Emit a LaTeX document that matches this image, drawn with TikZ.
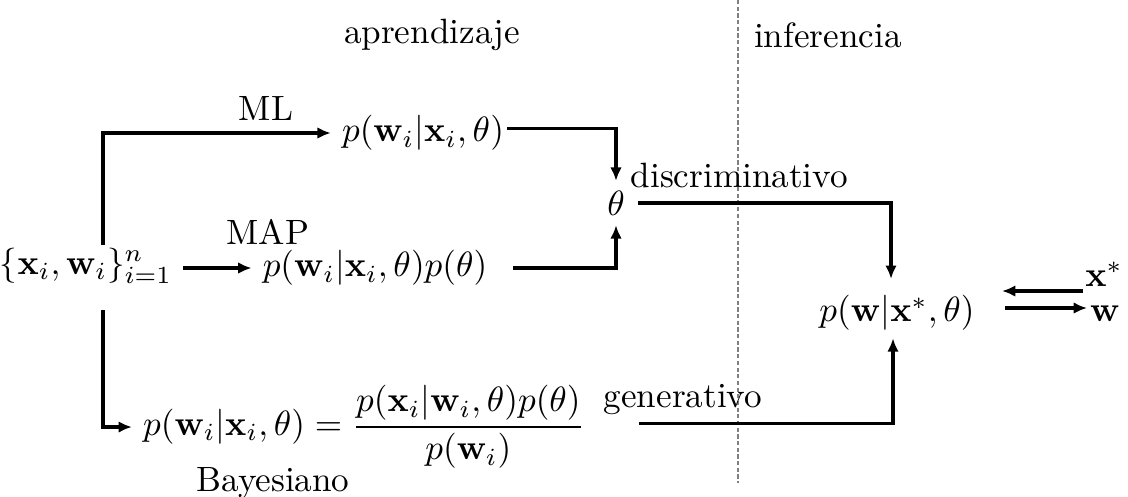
\documentclass[tikz,border=0pt]{standalone}
\usetikzlibrary{arrows.meta}
\begin{document}
\begin{tikzpicture}[x=0.01cm,y=-0.01cm,
  conn/.style={line width=0.95pt},
  arr/.style={conn,-{Latex[length=3.8pt,width=3.3pt]}},
  mathnode/.style={inner xsep=3pt,inner ysep=0pt},
  lbl/.style={inner sep=0pt},
  sep/.style={gray,line width=0.35pt,dash pattern=on 1.2pt off 0.7pt}]
\useasboundingbox (0,0) rectangle (1128,496);
% separator
\draw[sep] (738,0) -- (738,483);
% headings
\node[lbl] (aprend) at (432,35) {aprendizaje};
\node[lbl] (infer) at (828,35) {inferencia};
% nodes
\node[mathnode] (data) at (86,266) {$\{\mathbf{x}_i,\mathbf{w}_i\}_{i=1}^{n}$};
\node[mathnode] (ml) at (423,133) {$p(\mathbf{w}_i|\mathbf{x}_i,\theta)$};
\node[mathnode] (map) at (375,268) {$p(\mathbf{w}_i|\mathbf{x}_i,\theta)p(\theta)$};
\node[mathnode] (bayes) at (364,427) {$\displaystyle p(\mathbf{w}_i|\mathbf{x}_i,\theta)=\frac{p(\mathbf{x}_i|\mathbf{w}_i,\theta)p(\theta)}{p(\mathbf{w}_i)}$};
\node[inner sep=0pt,minimum width=0.42cm,minimum height=0.43cm] (theta) at (616,203) {$\theta$};
\node[mathnode] (post) at (897,313) {$p(\mathbf{w}|\mathbf{x}^*,\theta)$};
\node[lbl] (xs) at (1104,274) {$\mathbf{x}^*$};
\node[lbl] (w) at (1105,314) {$\mathbf{w}$};
% labels
\node[lbl] (mllbl) at (266,108) {ML};
\node[lbl] (maplbl) at (268,232) {MAP};
\node[lbl] (baylbl) at (273,483) {Bayesiano};
\node[lbl,anchor=base west] (disclbl) at (630,187) {discriminativo};
\node[lbl,anchor=base west] (genlbl) at (603,407) {generativo};
% coordinates
\coordinate (dn) at (103,245);
\coordinate (ds) at (103,310);
\coordinate (xsa) at (1083,291);
\coordinate (xsb) at (1002,291);
\coordinate (wa) at (1005,308);
\coordinate (wb) at (1087,308);
% connectors
\draw[arr] (dn) |- (ml.west);
\draw[arr] (data.east |- map.west) -- (map.west);
\draw[arr] (ds) |- (bayes.west);
\draw[arr] ([xshift=-0.08cm,yshift=1.3pt]ml.east) -| (theta.north);
\draw[arr] ([xshift=0.15cm]map.east) -| (theta.south);
\draw[arr] (theta.east) -| ([xshift=-0.06cm,yshift=4.5pt]post.north);
\draw[arr] ([xshift=0.43cm,yshift=1pt]bayes.east) -| ([xshift=-0.04cm,yshift=-2pt]post.south);
\draw[arr] (xsa) -- (xsb);
\draw[arr] (wa) -- (wb);
\end{tikzpicture}
\end{document}
